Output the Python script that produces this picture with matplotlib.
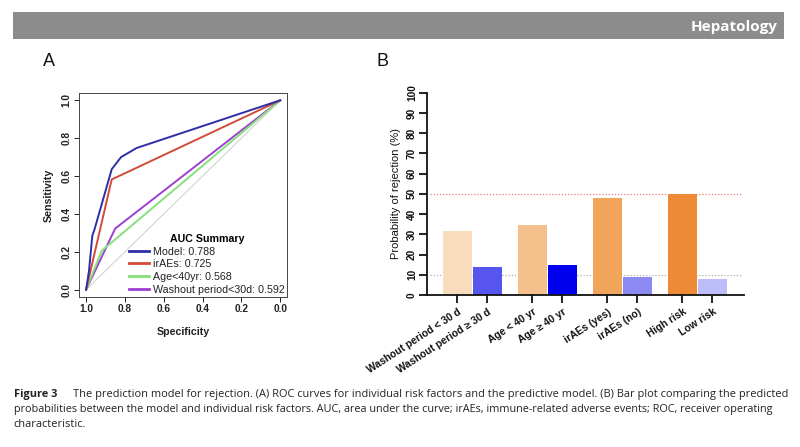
import matplotlib
matplotlib.use('Agg')
import matplotlib.pyplot as plt
from matplotlib.patches import Rectangle
from matplotlib.lines import Line2D

# ---------------- data ----------------
# Panel A: ROC curves (specificity, sensitivity)
model_spec = [1.0, 0.985, 0.968, 0.957, 0.868, 0.82, 0.74, 0.0]
model_sens = [0.0, 0.10, 0.285, 0.317, 0.636, 0.70, 0.748, 1.0]
irae_spec = [1.0, 0.868, 0.0]
irae_sens = [0.0, 0.582, 1.0]
age_spec = [1.0, 0.92, 0.0]
age_sens = [0.0, 0.205, 1.0]
wash_spec = [1.0, 0.85, 0.0]
wash_sens = [0.0, 0.323, 1.0]
roc_labels = ["Model: 0.788", "irAEs: 0.725", "Age<40yr: 0.568", "Washout period<30d: 0.592"]
roc_ticks = [1.0, 0.8, 0.6, 0.4, 0.2, 0.0]

# Panel B: bar plot
bar_labels = ["Washout period < 30 d", "Washout period \u2265 30 d", "Age < 40 yr", "Age \u2265 40 yr",
              "irAEs (yes)", "irAEs (no)", "High risk", "Low risk"]
bar_values = [31.5, 14.0, 34.8, 15.0, 47.8, 8.9, 50.0, 7.9]
ref_high = 50
ref_low = 10
bar_yticks = list(range(0, 101, 10))

caption_bold = "Figure 3"
caption_l1 = "The prediction model for rejection. (A) ROC curves for individual risk factors and the predictive model. (B) Bar plot comparing the predicted"
caption_l2 = "probabilities between the model and individual risk factors. AUC, area under the curve; irAEs, immune-related adverse events; ROC, receiver operating"
caption_l3 = "characteristic."

# ---------------- style ----------------
W, H = 800, 447
plt.rcParams['font.family'] = ['Liberation Sans', 'DejaVu Sans']
cap_family = ['Liberation Sans Narrow', 'Open Sans', 'DejaVu Sans']
fig = plt.figure(figsize=(W / 100, H / 100), dpi=100)
fig.patch.set_facecolor('white')


def fx(px):
    return px / W


def fy(py):
    return 1 - py / H


# header bar
fig.add_artist(Rectangle((fx(12.7), fy(39.0)), fx(784.3) - fx(12.7), (39.0 - 12.3) / H,
                         transform=fig.transFigure, facecolor='#8C8C8C', edgecolor='none', zorder=0))
hdr = fig.text(fx(778), fy(26.5), "Hepatology", color='white', fontweight='bold',
               family=cap_family, fontsize=12, ha='right', va='center')

fig.text(fx(49), fy(62), "A", fontsize=13, ha='center', va='center', color='#111111')
fig.text(fx(382), fy(62), "B", fontsize=13, ha='center', va='center', color='#111111')

# ---------------- Panel A ----------------
axA = fig.add_axes([fx(79.3), fy(296.7), (287 - 79.3) / W, (296.7 - 93.3) / H])
axA.plot([1, 0], [0, 1], color='#D3D3D3', lw=0.8, zorder=1)
roc_colors = ['#2E2EA8', '#D24A3A', '#86E07A', '#9B40D0']
series = [(model_spec, model_sens), (irae_spec, irae_sens), (age_spec, age_sens), (wash_spec, wash_sens)]
draw_order = [2, 3, 1, 0]
for i in draw_order:
    s, v = series[i]
    axA.plot(s, v, color=roc_colors[i], lw=1.4, zorder=2 + (3 - i))
axA.set_xlim(1.035, -0.035)
axA.set_ylim(-0.037, 1.037)
axA.set_xticks(roc_ticks)
axA.set_yticks(roc_ticks)
axA.set_xticklabels([f"{t:.1f}" for t in roc_ticks])
axA.set_yticklabels([f"{t:.1f}" for t in roc_ticks], rotation=90, va='center')
axA.tick_params(length=3.5, width=0.7, labelsize=7.3, pad=2, colors='#222222')
for lbl in axA.get_xticklabels() + axA.get_yticklabels():
    lbl.set_fontweight('bold')
for sp in axA.spines.values():
    sp.set_linewidth(0.7)
    sp.set_color('#444444')
axA.set_xlabel("Specificity", fontsize=7.7, fontweight='bold', labelpad=9, color='#222222')
axA.set_ylabel("Sensitivity", fontsize=7.7, fontweight='bold', labelpad=6, color='#222222')
handles = [Line2D([], [], color=c, lw=2.0) for c in roc_colors]
leg = axA.legend(handles, roc_labels, title="AUC Summary", loc='lower right',
                 bbox_to_anchor=(1.0, 0.0), frameon=False, fontsize=7.7,
                 title_fontproperties={'weight': 'bold', 'size': 7.7},
                 handlelength=1.9, handletextpad=0.35, labelspacing=0.25,
                 borderpad=0.1, borderaxespad=0.1)
for t in leg.get_texts():
    t.set_color('#222222')

# ---------------- Panel B ----------------
axB = fig.add_axes([fx(427.3), fy(295), (744 - 427.3) / W, (295 - 92.7) / H])
positions = [g * 2.5 + k for g in range(len(bar_values) // 2) for k in range(2)]
bar_colors = ['#F9DCBE', '#5656EE', '#F4C18C', '#0000EE', '#F0A55B', '#8A8AF2', '#EE8A35', '#BDBDFA']
axB.bar(positions, bar_values, width=0.97, color=bar_colors, zorder=2)
axB.axhline(ref_high, xmin=0.01, xmax=0.99, color='#E57F7F', ls=(0, (1, 1.5)), lw=0.9, zorder=1)
axB.axhline(ref_low, xmin=0.01, xmax=0.99, color='#AFAFAF', ls=(0, (1, 1.5)), lw=0.9, zorder=1)
axB.set_xlim(-1.0, 9.55)
axB.set_ylim(0, 100)
axB.set_yticks(bar_yticks)
axB.set_yticklabels([str(t) for t in bar_yticks], rotation=90, va='center')
axB.set_xticks(positions)
axB.set_xticklabels(bar_labels)
for lbl in axB.get_xticklabels():
    lbl.set_rotation(33)
    lbl.set_ha('right')
    lbl.set_rotation_mode('anchor')
    lbl.set_fontweight('bold')
for lbl in axB.get_yticklabels():
    lbl.set_fontweight('bold')
axB.tick_params(length=5.5, width=1.3, labelsize=7.3, pad=2, colors='#111111')
axB.tick_params(axis='x', labelsize=7.4, pad=3)
for side in ['top', 'right']:
    axB.spines[side].set_visible(False)
for side in ['left', 'bottom']:
    axB.spines[side].set_linewidth(1.3)
    axB.spines[side].set_color('#111111')
axB.set_ylabel("Probability of rejection (%)", fontsize=8.0, labelpad=4, color='#111111')

# ---------------- caption ----------------
r = fig.canvas.get_renderer()
# fit header text width
ext = hdr.get_window_extent(renderer=r)
hdr.set_fontsize(12 * 87.0 / ext.width)

cap_size = 9.0
x0 = 13.5
x_end = 786.0
tb = fig.text(fx(x0), fy(397), caption_bold, fontweight='bold', family=cap_family,
              fontsize=cap_size, color='#222222', va='baseline')
t1 = fig.text(0, fy(397), caption_l1, family=cap_family, fontsize=cap_size, color='#222222', va='baseline')
wb = tb.get_window_extent(renderer=r).width
w1 = t1.get_window_extent(renderer=r).width
gap = 16.0
scale = (x_end - x0 - gap) / (wb + w1)
cap_size *= scale
tb.set_fontsize(cap_size)
t1.set_fontsize(cap_size)
wb = tb.get_window_extent(renderer=r).width
t1.set_x(fx(x0 + wb + gap))
t2 = fig.text(fx(x0), fy(412), caption_l2, family=cap_family, fontsize=cap_size, color='#222222', va='baseline')
w2 = t2.get_window_extent(renderer=r).width
t2.set_fontsize(cap_size * min(1.0, (x_end - x0) / w2))
fig.text(fx(x0), fy(427), caption_l3, family=cap_family, fontsize=cap_size, color='#222222', va='baseline')

fig.savefig('out.png', dpi=100, facecolor='white')
